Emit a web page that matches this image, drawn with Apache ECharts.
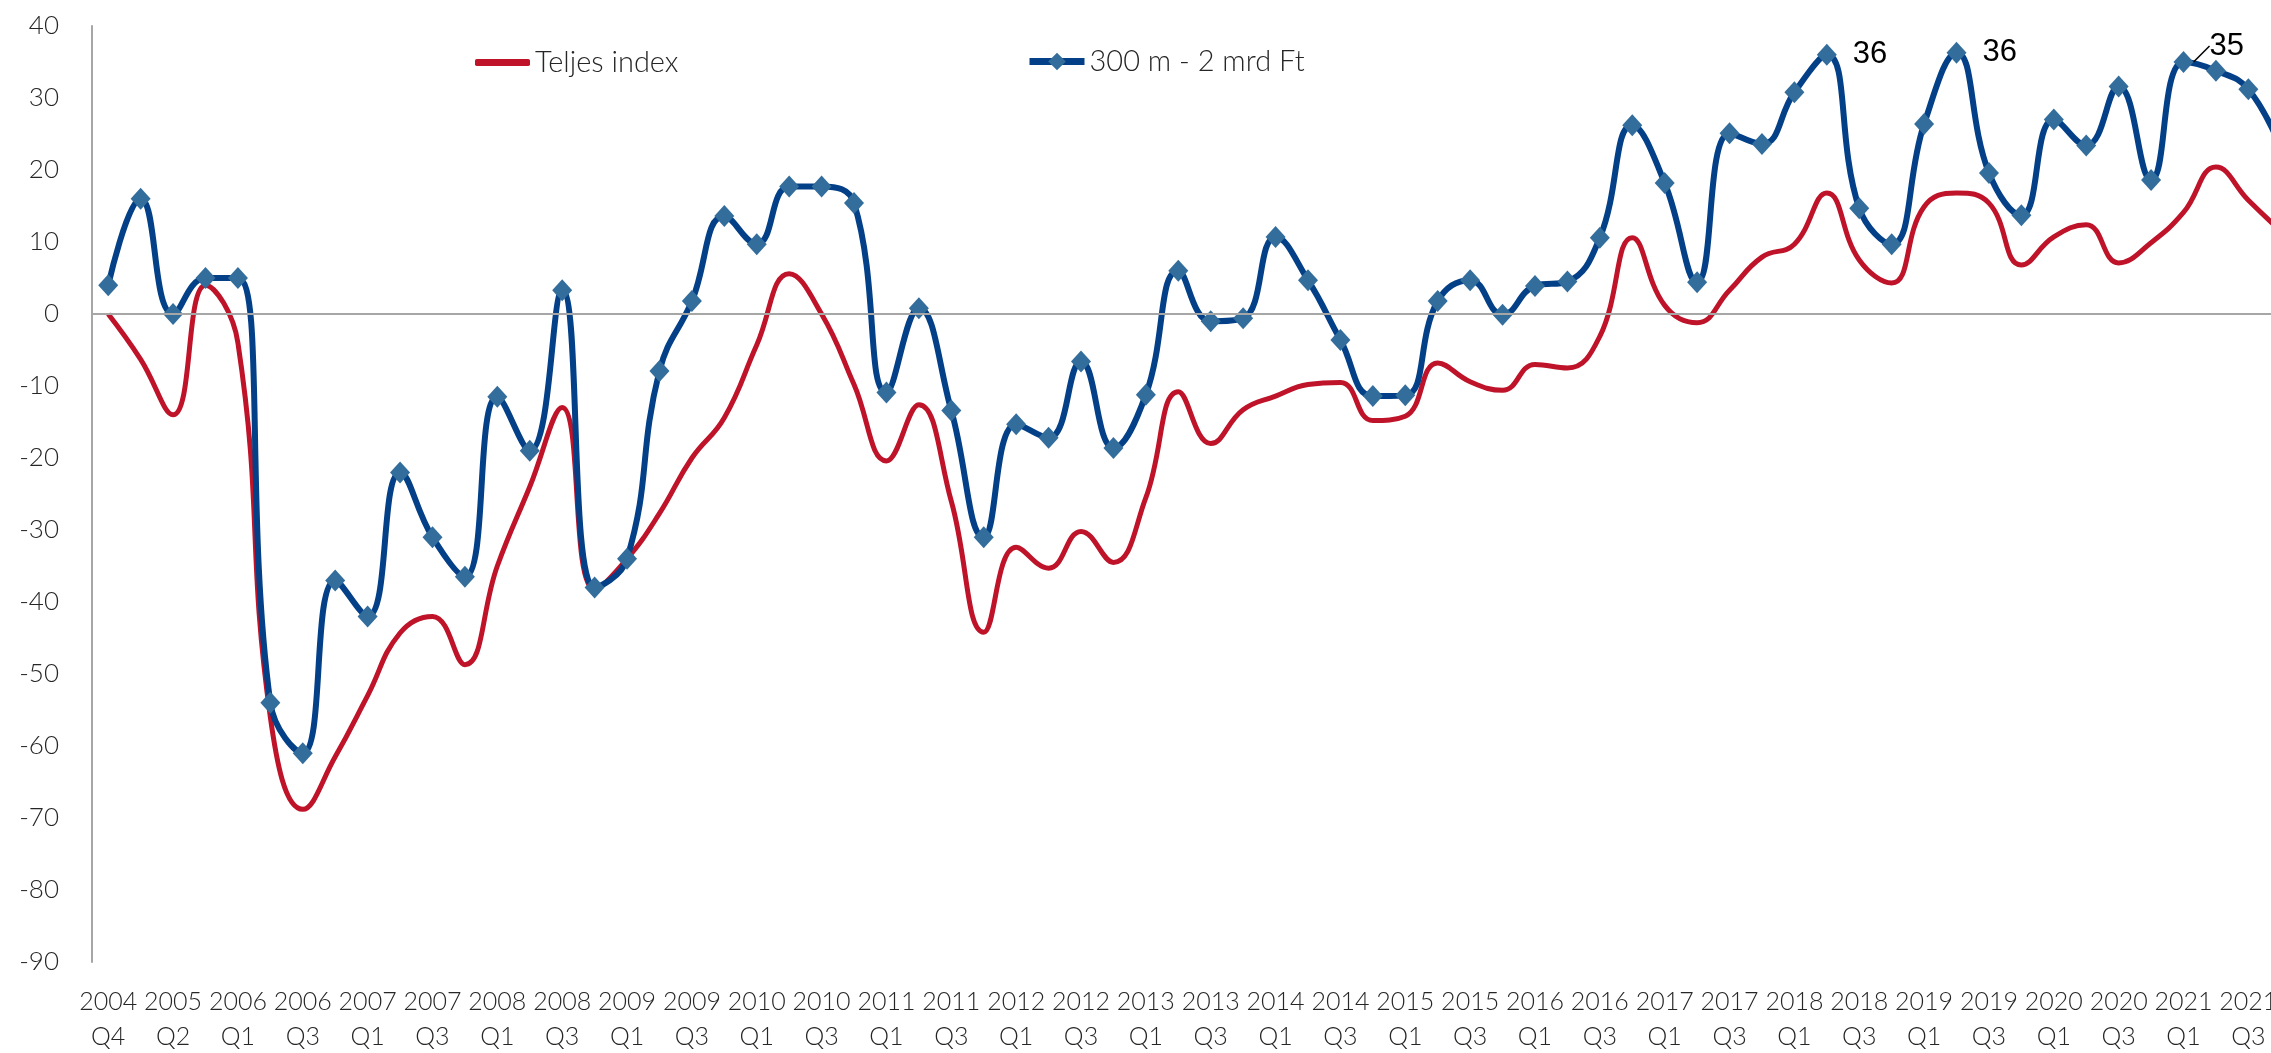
<!DOCTYPE html>
<html>
<head>
<meta charset="utf-8">
<title>Teljes index / 300 m - 2 mrd Ft</title>
<script src="https://cdn.jsdelivr.net/npm/echarts@6/dist/echarts.min.js"></script>
<style>
  html, body { margin: 0; padding: 0; background: #fff; }
  #main { width: 2271px; height: 1053px; }
</style>
</head>
<body>
<div id="main"></div>
<script>
// negyedevek (a 2005-ös évben egy negyedev hianyzik, ahogy az eredeti tengelyen)
var categories = [
    '2004 Q4','2005 Q1','2005 Q2','2005 Q3',
    '2006 Q1','2006 Q2','2006 Q3','2006 Q4',
    '2007 Q1','2007 Q2','2007 Q3','2007 Q4',
    '2008 Q1','2008 Q2','2008 Q3','2008 Q4',
    '2009 Q1','2009 Q2','2009 Q3','2009 Q4',
    '2010 Q1','2010 Q2','2010 Q3','2010 Q4',
    '2011 Q1','2011 Q2','2011 Q3','2011 Q4',
    '2012 Q1','2012 Q2','2012 Q3','2012 Q4',
    '2013 Q1','2013 Q2','2013 Q3','2013 Q4',
    '2014 Q1','2014 Q2','2014 Q3','2014 Q4',
    '2015 Q1','2015 Q2','2015 Q3','2015 Q4',
    '2016 Q1','2016 Q2','2016 Q3','2016 Q4',
    '2017 Q1','2017 Q2','2017 Q3','2017 Q4',
    '2018 Q1','2018 Q2','2018 Q3','2018 Q4',
    '2019 Q1','2019 Q2','2019 Q3','2019 Q4',
    '2020 Q1','2020 Q2','2020 Q3','2020 Q4',
    '2021 Q1','2021 Q2','2021 Q3','2021 Q4'
];

var teljesIndex = [
    0, -6.3, -14, 4,
    -4, -56, -68.8, -61.5,
    -53, -44.3, -42, -48.7,
    -35, -24, -13, -38.3,
    -34, -27.7, -20, -14.4,
    -4.3, 5.6, 0, -9.8,
    -20.4, -12.6, -26, -44.2,
    -32.4, -35.3, -30.2, -34.5,
    -25.5, -10.8, -18, -13.3,
    -11.4, -9.8, -9.5, -14.8,
    -14.2, -6.8, -9.4, -10.6,
    -7, -7.5, -3.1, 10.6,
    1.2, -1.2, 3.3, 7.9,
    9.7, 16.8, 7.5, 4.3,
    14.9, 16.8, 15.4, 6.8,
    10.7, 12.4, 7.1, 9.9,
    14.1, 20.4, 15.8, 11.5
];

var kozepes = [
    4, 16, 0, 5,
    5, -54, -61, -37,
    -42, -22, -31, -36.5,
    -11.5, -19, 3.3, -38,
    -34, -7.9, 1.8, 13.6,
    9.7, 17.7, 17.7, 15.4,
    -10.9, 0.8, -13.4, -31,
    -15.3, -17.2, -6.6, -18.6,
    -11.2, 6, -1, -0.6,
    10.7, 4.7, -3.6, -11.4,
    -11.3, 1.8, 4.7, -0.1,
    3.9, 4.5, 10.6, 26.2,
    18.2, 4.4, 25.1, 23.6,
    30.8, 36, 14.7, 9.7,
    26.4, 36.3, 19.6, 13.7,
    27, 23.4, 31.6, 18.6,
    35, 33.8, 31.2, 23
];

// melyik pontok kapnak feliratot
var labelIdx = [53, 57, 64];

var yMin = -90, yMax = 40, yStep = 10;

var axisFont = 'Lato, "Open Sans", "Noto Sans", sans-serif';

var kozepesData = kozepes.map(function (v, i) {
    if (labelIdx.indexOf(i) > -1) {
        return {
            value: v,
            label: { show: true },
            labelLine: { show: i === 64 }
        };
    }
    return v;
});

var myChart = echarts.init(document.getElementById('main'), null, { renderer: 'canvas' });

var option = {
    animation: false,
    backgroundColor: '#ffffff',
    grid: {
        left: 92,
        right: -26,
        top: 26,
        bottom: 91,
        containLabel: false,
        outerBoundsMode: 'none'
    },
    legend: [
        {
            data: [{ name: 'Teljes index', icon: 'roundRect' }],
            left: 470,
            top: 43,
            itemWidth: 55,
            itemHeight: 7,
            textStyle: { fontFamily: axisFont, fontWeight: 300, fontSize: 29, color: '#262626' }
        },
        {
            data: ['300 m - 2 mrd Ft'],
            left: 1021,
            top: 42,
            itemWidth: 55,
            itemHeight: 22,
            lineStyle: { width: 7 },
            textStyle: { fontFamily: axisFont, fontWeight: 300, fontSize: 29, color: '#262626' }
        }
    ],
    xAxis: {
        type: 'category',
        data: categories,
        boundaryGap: true,
        axisLine: { show: false, onZero: false },
        axisTick: { show: false },
        splitLine: { show: false },
        axisLabel: {
            interval: 1,
            margin: 22,
            hideOverlap: false,
            fontFamily: axisFont,
            fontWeight: 300,
            fontSize: 25,
            lineHeight: 35,
            color: '#262626',
            formatter: function (v) { return v.replace(' ', '\n'); }
        }
    },
    yAxis: {
        type: 'value',
        min: yMin,
        max: yMax,
        interval: yStep,
        axisLine: { show: true, lineStyle: { color: '#a6a6a6', width: 2 } },
        axisTick: { show: false },
        splitLine: { show: false },
        axisLabel: {
            margin: 33,
            fontFamily: axisFont,
            fontWeight: 300,
            fontSize: 26,
            color: '#262626'
        }
    },
    series: [
        {
            // csak a 0-s vonal
            name: 'zero',
            type: 'line',
            data: [],
            z: 1,
            silent: true,
            markLine: {
                silent: true,
                symbol: 'none',
                label: { show: false },
                lineStyle: { color: '#a6a6a6', width: 2, type: 'solid' },
                data: [{ yAxis: 0 }]
            }
        },
        {
            name: 'Teljes index',
            type: 'line',
            data: teljesIndex,
            smooth: 0.45,
            symbol: 'none',
            showSymbol: false,
            z: 2,
            lineStyle: { color: '#be1329', width: 5 },
            itemStyle: { color: '#be1329' }
        },
        {
            name: '300 m - 2 mrd Ft',
            type: 'line',
            data: kozepesData,
            smooth: 0.45,
            symbol: 'diamond',
            symbolSize: [20, 22],
            showAllSymbol: true,
            z: 3,
            lineStyle: { color: '#034087', width: 6 },
            itemStyle: { color: '#336d9c' },
            label: {
                show: false,
                position: 'right',
                distance: 16,
                fontFamily: '"Liberation Sans", Arial, sans-serif',
                fontSize: 31,
                color: '#000',
                formatter: function (p) { return Math.round(p.value); }
            },
            labelLine: {
                show: false,
                length2: 0,
                lineStyle: { color: '#000', width: 1.5 }
            },
            labelLayout: function (p) {
                if (p.dataIndex === 64) {
                    return { dy: -16 };
                }
                return {};
            }
        }
    ]
};

myChart.setOption(option);
</script>
</body>
</html>
